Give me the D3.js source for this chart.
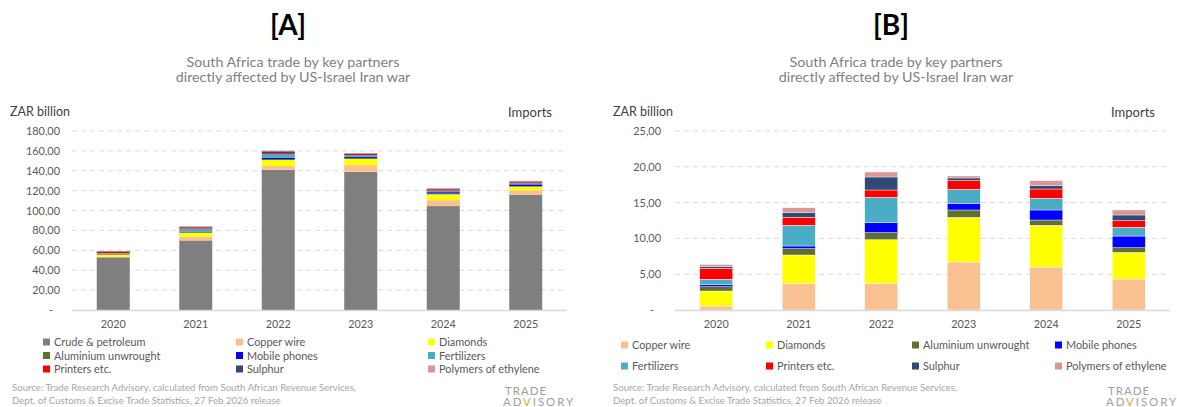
<!DOCTYPE html>
<html>
<head>
<meta charset="utf-8">
<script src="https://cdn.jsdelivr.net/npm/d3@7"></script>
<style>
  html, body { margin: 0; padding: 0; background: #fff; }
  svg { display: block; font-family: Lato, "Open Sans", sans-serif; }
</style>
</head>
<body>
<svg id="chart" width="1177" height="407"></svg>
<script>
// Import values by product, ZAR billion
const years = ["2020", "2021", "2022", "2023", "2024", "2025"];
const crude       = [53.0, 70.0, 141.0, 139.0, 104.5, 116.0];
const copper      = [0.55, 3.72, 3.72, 6.70, 6.00, 4.33];
const diamonds    = [2.10, 3.96, 6.10, 6.24, 5.83, 3.72];
const aluminium   = [0.60, 0.89, 0.98, 1.03, 0.74, 0.65];
const mobile      = [0.30, 0.37, 1.40, 0.93, 1.40, 1.63];
const fertilizers = [0.75, 2.89, 3.54, 1.95, 1.63, 1.22];
const printers    = [1.50, 1.11, 1.02, 1.21, 1.30, 0.92];
const sulphur     = [0.30, 0.70, 1.82, 0.38, 0.51, 0.80];
const polymers    = [0.25, 0.65, 0.69, 0.28, 0.65, 0.70];

const seriesNames = ["Crude & petroleum", "Copper wire", "Diamonds", "Aluminium unwrought",
  "Mobile phones", "Fertilizers", "Printers etc.", "Sulphur", "Polymers of ethylene"];
const seriesValues = [crude, copper, diamonds, aluminium, mobile, fertilizers, printers, sulphur, polymers];
const seriesColors = ["#7f7f7f", "#f9c191", "#ffff00", "#5f7131", "#0000ff",
  "#4bacc6", "#ff0000", "#2d4b74", "#d99694"];

const ticksA = [0, 20, 40, 60, 80, 100, 120, 140, 160, 180];
const ticksB = [0, 5, 10, 15, 20, 25];

const titleLines = ["South Africa trade by key partners", "directly affected by US-Israel Iran war"];
const sourceLines = ["Source: Trade Research Advisory, calculated from South African Revenue Services,",
  "Dept. of Customs & Excise Trade Statistics, 27 Feb 2026 release"];

const svg = d3.select("#chart");
const fmt = v => v === 0 ? "-" : d3.format(".2f")(v).replace(".", ",");

function drawPanel(opt) {
  const g = svg.append("g").attr("transform", `translate(${opt.dx},0)`);
  const x0 = 72, x1 = 567, yTop = 131, yBase = 310;

  // panel label and title
  g.append("text").attr("x", 288).attr("y", 35).attr("text-anchor", "middle")
    .attr("font-size", 28).attr("font-weight", 700).attr("fill", "#000").text(opt.label);
  g.selectAll("text.title").data(titleLines).join("text").attr("class", "title")
    .attr("x", 293).attr("y", (d, i) => 66.5 + i * 15.5).attr("text-anchor", "middle")
    .attr("font-size", 14.3).attr("fill", "#7f7f7f").text(d => d);

  g.append("text").attr("x", 10).attr("y", 116).attr("font-size", 12.5)
    .attr("fill", "#404040").text("ZAR billion");
  g.append("text").attr("x", 552).attr("y", 116.5).attr("text-anchor", "end").attr("font-size", 13)
    .attr("fill", "#404040").text("Imports");

  const keys = opt.series.map(i => seriesNames[i]);
  const rows = years.map((yr, j) => {
    const r = { year: yr };
    opt.series.forEach(i => { r[seriesNames[i]] = seriesValues[i][j]; });
    return r;
  });

  const x = d3.scaleBand().domain(years).range([x0, x1]).paddingInner(0.6).paddingOuter(0.3);
  const y = d3.scaleLinear().domain([0, opt.ticks[opt.ticks.length - 1]]).range([yBase, yTop]);

  // gridlines
  g.append("g").selectAll("line").data(opt.ticks.filter(t => t > 0)).join("line")
    .attr("x1", x0).attr("x2", x1).attr("y1", d => y(d)).attr("y2", d => y(d))
    .attr("stroke", "#d9d9d9").attr("stroke-width", 1).attr("stroke-dasharray", "5,4");

  // value axis
  const yAxis = g.append("g").attr("transform", `translate(${opt.labelRight},0)`)
    .call(d3.axisLeft(y).tickValues(opt.ticks).tickFormat(fmt).tickSize(0).tickPadding(0));
  yAxis.select(".domain").remove();
  yAxis.selectAll("text").attr("font-size", 10.9).attr("fill", "#595959")
    .attr("font-family", "Lato, sans-serif")
    .attr("dx", d => d === 0 ? -7 : 0);

  // stacked bars
  const stack = d3.stack().keys(keys)(rows);
  g.append("g").selectAll("g").data(stack).join("g")
    .attr("fill", d => seriesColors[seriesNames.indexOf(d.key)])
    .selectAll("rect").data(d => d).join("rect")
    .attr("x", d => x(d.data.year)).attr("width", x.bandwidth())
    .attr("y", d => y(d[1])).attr("height", d => Math.max(0, y(d[0]) - y(d[1])))
    .attr("stroke", opt.segStroke ? "#ffffff" : "none")
    .attr("stroke-width", 0.4);

  // baseline
  g.append("line").attr("x1", x0).attr("x2", x1).attr("y1", yBase + 0.5).attr("y2", yBase + 0.5)
    .attr("stroke", "#d9d9d9").attr("stroke-width", 1.5);

  // category axis
  const xAxis = g.append("g").attr("transform", `translate(0,${yBase})`)
    .call(d3.axisBottom(x).tickSize(0).tickPadding(10));
  xAxis.select(".domain").remove();
  xAxis.selectAll("text").attr("font-size", 10.8).attr("fill", "#595959")
    .attr("font-family", "Lato, sans-serif");

  // legend
  const leg = g.append("g");
  opt.series.forEach((si, k) => {
    const col = k % opt.legendCols.length, row = Math.floor(k / opt.legendCols.length);
    const lx = opt.legendCols[col], ly = opt.legendY0 + row * opt.legendDy;
    leg.append("rect").attr("x", lx).attr("y", ly - 3.5).attr("width", 7).attr("height", 7)
      .attr("fill", seriesColors[si]);
    leg.append("text").attr("x", lx + 11).attr("y", ly + 4).attr("font-size", 10.9)
      .attr("fill", "#595959").text(seriesNames[si]);
  });

  // source note
  g.selectAll("text.src").data(sourceLines).join("text").attr("class", "src")
    .attr("x", opt.srcX).attr("y", (d, i) => 390.5 + i * 13).attr("font-size", 9.65)
    .attr("fill", "#a6a6a6").text(d => d);

  // logo
  const logo = g.append("g").attr("font-family", "Lato, sans-serif").attr("font-weight", 400)
    .attr("fill", "#a0a0a0");
  logo.append("text").attr("x", 505).attr("y", 394.5).attr("font-size", 11.5)
    .attr("letter-spacing", 1.0).text("TRADE");
  const adv = logo.append("text").attr("x", 503).attr("y", 405.5).attr("font-size", 11.5)
    .attr("letter-spacing", 1.9);
  adv.append("tspan").text("AD");
  adv.append("tspan").attr("fill", "#f0a030").text("V");
  adv.append("tspan").text("ISORY");
}

drawPanel({
  dx: 0, label: "[A]", series: [0, 1, 2, 3, 4, 5, 6, 7, 8], ticks: ticksA,
  labelRight: 60, segStroke: false,
  legendCols: [43, 236, 428], legendY0: 342, legendDy: 13.5, srcX: 12
});
drawPanel({
  dx: 603, label: "[B]", series: [1, 2, 3, 4, 5, 6, 7, 8], ticks: ticksB,
  labelRight: 58, segStroke: true,
  legendCols: [18, 163, 309, 452], legendY0: 345, legendDy: 21, srcX: 10
});
</script>
</body>
</html>
